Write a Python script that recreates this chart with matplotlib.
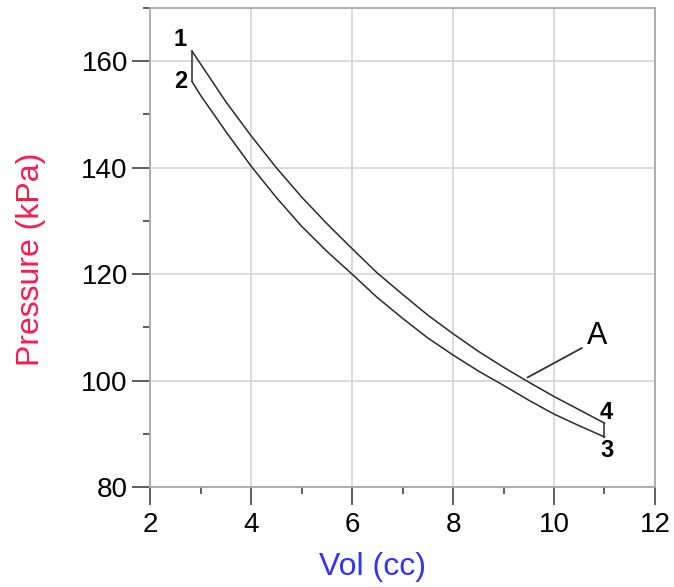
import numpy as np
import matplotlib
matplotlib.use("Agg")
import matplotlib.pyplot as plt
from matplotlib.ticker import MultipleLocator

plt.rcParams["font.family"] = ["Liberation Sans", "DejaVu Sans"]

# =========================
# Data
# =========================

# upper branch 1 -> 4
vol_upper = [2.83, 3.0, 3.5, 4.0, 4.5, 5.0, 5.5, 6.0, 6.5, 7.0, 7.5,
             8.0, 8.5, 9.0, 9.5, 10.0, 10.5, 11.0]
p_upper = [161.9, 159.5, 152.4, 146.0, 140.0, 134.5, 129.5, 124.8, 120.2,
           116.2, 112.3, 108.8, 105.5, 102.5, 99.7, 97.0, 94.5, 92.0]

# lower branch 2 -> 3
vol_lower = [2.83, 3.0, 3.5, 4.0, 4.5, 5.0, 5.5, 6.0, 6.5, 7.0, 7.5,
             8.0, 8.5, 9.0, 9.5, 10.0, 10.5, 11.0]
p_lower = [156.2, 153.6, 146.8, 140.3, 134.4, 129.0, 124.3, 120.0, 115.6,
           111.7, 108.0, 104.8, 101.8, 99.1, 96.3, 93.7, 91.5, 89.4]

point_labels = ["1", "2", "3", "4"]
label_x = [2.6, 2.6, 11.06, 11.04]
label_y = [164.0, 156.1, 86.8, 93.9]

# leader line for "A"
a_line_x = [9.48, 10.55]
a_line_y = [100.6, 106.1]

# =========================
# Figure
# =========================

fig = plt.figure(figsize=(6.74, 5.87), dpi=100)
ax = fig.add_axes([0.2226, 0.1704, 0.7492, 0.816])

line_col = "#2a2a2a"
ax.plot(vol_upper, p_upper, color=line_col, lw=1.1)
ax.plot(vol_lower, p_lower, color=line_col, lw=1.1)
# closing edges at both ends
ax.plot([vol_upper[0], vol_lower[0]], [p_upper[0], p_lower[0]], color=line_col, lw=1.1)
ax.plot([vol_upper[-1], vol_lower[-1]], [p_upper[-1], p_lower[-1]], color=line_col, lw=1.1)

for lab, lx, ly in zip(point_labels, label_x, label_y):
    ax.text(lx, ly, lab, ha="center", va="center", fontsize=17,
            fontweight="bold", color="black")

ax.plot(a_line_x, a_line_y, color="#333333", lw=1.3)
ax.text(10.85, 108.3, "A", ha="center", va="center", fontsize=22, color="black")

ax.set_xlim(2, 12)
ax.set_ylim(80, 170)
ax.xaxis.set_major_locator(MultipleLocator(2))
ax.xaxis.set_minor_locator(MultipleLocator(1))
ax.yaxis.set_major_locator(MultipleLocator(20))
ax.yaxis.set_minor_locator(MultipleLocator(10))

ax.grid(True, which="major", color="#d4d4d4", lw=1.2)
ax.set_axisbelow(True)
for side in ["top", "right", "bottom", "left"]:
    ax.spines[side].set_color("#a8a8a8")
    ax.spines[side].set_linewidth(1.3)

ax.tick_params(which="major", direction="out", length=13, width=1.1,
               color="#333333", labelsize=20, pad=3)
ax.tick_params(which="minor", direction="out", length=5, width=1.1,
               color="#333333")
ax.tick_params(axis="x", which="major", pad=5)
ax.tick_params(top=False, right=False)

ax.set_xlabel("Vol (cc)", fontsize=23, color="#3333ff")
ax.set_ylabel("Pressure (kPa)", fontsize=23, color="#ff1a4a")
ax.xaxis.set_label_coords(0.44, -0.135)
ax.yaxis.set_label_coords(-0.207, 0.475)

fig.savefig("out.png", dpi=100)
